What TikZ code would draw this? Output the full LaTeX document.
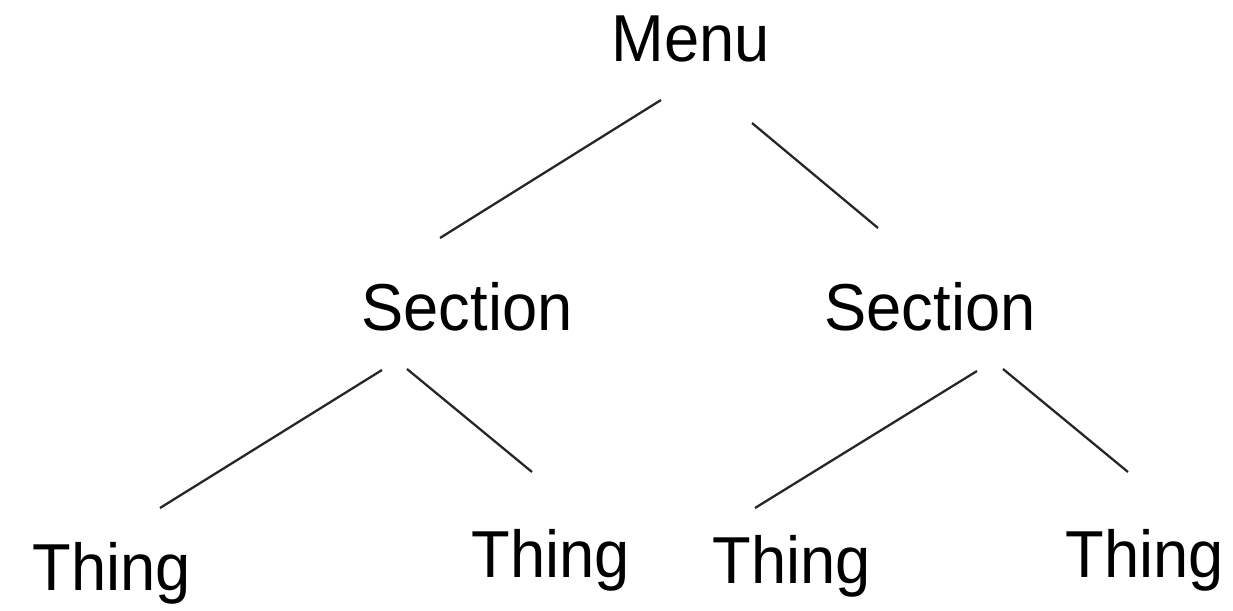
\documentclass[tikz,border=0pt]{standalone}
\usepackage{fontspec}
\setmainfont{Liberation Sans}
\begin{document}
\begin{tikzpicture}[x=0.02cm,y=-0.02cm,
  lbl/.style={inner sep=0pt,anchor=base,font=\fontsize{36}{40}\selectfont},
  edge/.style={line width=1.3pt,black!85}]
\useasboundingbox (0,0) rectangle (1233,611);
\node[lbl] (menu) at (691,62) {\scalebox{1}[1.05]{Menu}};
\node[lbl] (secL) at (467,330) {\scalebox{1}[1.05]{Section}};
\node[lbl] (secR) at (930,330) {\scalebox{1}[1.05]{Section}};
\node[lbl] (t1) at (112,590) {\scalebox{1}[1.05]{Thing}};
\node[lbl] (t2) at (551,577) {\scalebox{1}[1.05]{Thing}};
\node[lbl] (t3) at (792,583) {\scalebox{1}[1.05]{Thing}};
\node[lbl] (t4) at (1145,577) {\scalebox{1}[1.05]{Thing}};
\coordinate (mL) at (661,100);
\coordinate (sLt) at (440,238);
\coordinate (mR) at (752,123);
\coordinate (sRt) at (878,228);
\coordinate (sLa) at (382,370);
\coordinate (t1t) at (160,508);
\coordinate (sLb) at (407,369);
\coordinate (t2t) at (532,472);
\coordinate (sRa) at (977,371);
\coordinate (t3t) at (755,508);
\coordinate (sRb) at (1003,369);
\coordinate (t4t) at (1128,472);
\draw[edge] (mL) -- (sLt);
\draw[edge] (mR) -- (sRt);
\draw[edge] (sLa) -- (t1t);
\draw[edge] (sLb) -- (t2t);
\draw[edge] (sRa) -- (t3t);
\draw[edge] (sRb) -- (t4t);
\end{tikzpicture}
\end{document}
